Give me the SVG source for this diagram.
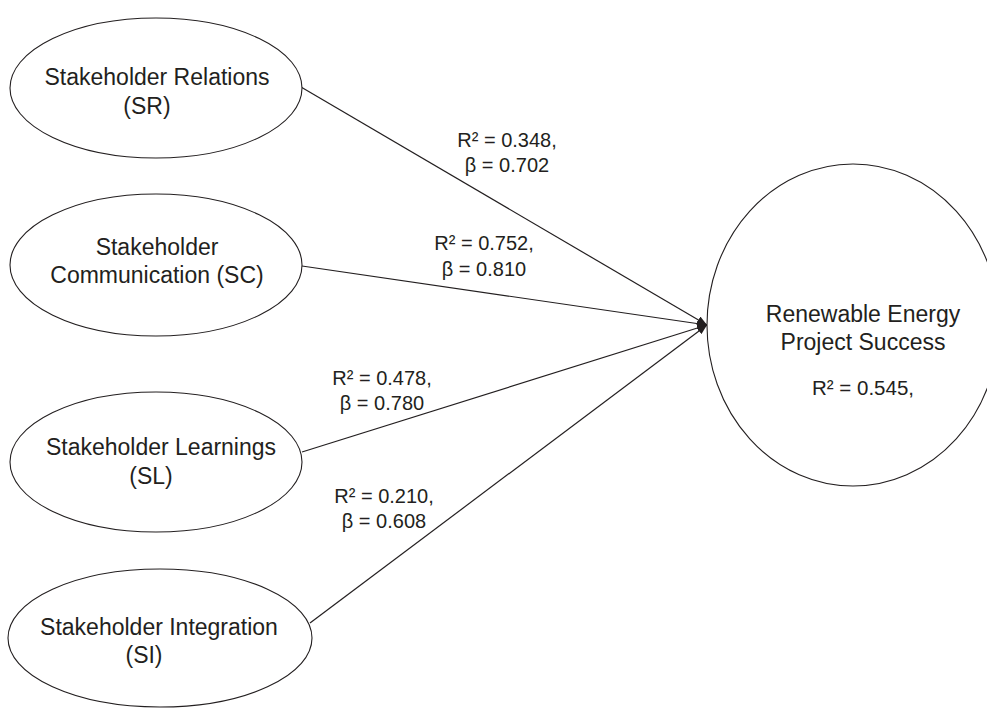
<svg xmlns="http://www.w3.org/2000/svg" width="987" height="709" viewBox="0 0 987 709">
<defs>
<style>
.node{fill:#fff;stroke:#231f20;stroke-width:1.1}
.t{font-family:"Liberation Sans",Arial,sans-serif;font-size:23px;fill:#231f20;text-anchor:middle}
.lb{font-family:"Liberation Sans",Arial,sans-serif;font-size:20px;fill:#231f20;text-anchor:middle}
.edge{fill:none;stroke:#231f20;stroke-width:1.2}
</style>
<marker id="ah" markerUnits="userSpaceOnUse" markerWidth="11" markerHeight="8" refX="10" refY="4" orient="auto">
<path d="M0,0 L10,4 L0,8 z" fill="#231f20"/>
</marker>
</defs>
<rect width="987" height="709" fill="#fff"/>
<g id="connectors">
<line class="edge" x1="301" y1="87" x2="707" y2="325" marker-end="url(#ah)"/>
<line class="edge" x1="302" y1="266" x2="707" y2="325" marker-end="url(#ah)"/>
<line class="edge" x1="302" y1="452" x2="707" y2="325" marker-end="url(#ah)"/>
<line class="edge" x1="310" y1="623" x2="707" y2="325" marker-end="url(#ah)"/>
</g>
<g id="SR">
<ellipse class="node" cx="156" cy="88" rx="146" ry="70"/>
<text class="t" x="157" y="85">Stakeholder Relations</text>
<text class="t" x="147" y="114">(SR)</text>
</g>
<g id="SC">
<ellipse class="node" cx="156" cy="265" rx="146" ry="71"/>
<text class="t" x="157" y="255">Stakeholder</text>
<text class="t" x="157" y="283">Communication (SC)</text>
</g>
<g id="SL">
<ellipse class="node" cx="156" cy="462" rx="146" ry="70"/>
<text class="t" x="161" y="455">Stakeholder Learnings</text>
<text class="t" x="151" y="484">(SL)</text>
</g>
<g id="SI">
<ellipse class="node" cx="160" cy="638" rx="152" ry="69"/>
<text class="t" x="159" y="635">Stakeholder Integration</text>
<text class="t" x="144" y="663">(SI)</text>
</g>
<g id="REPS">
<ellipse class="node" cx="853" cy="325" rx="146" ry="161"/>
<text class="t" x="863" y="322">Renewable Energy</text>
<text class="t" x="863" y="350">Project Success</text>
<text class="lb" x="863" y="395" style="font-size:20.5px">R² = 0.545,</text>
</g>
<g id="labels">
<text class="lb" x="507" y="147">R² = 0.348,</text>
<text class="lb" x="507" y="172">β = 0.702</text>
<text class="lb" x="484" y="250">R² = 0.752,</text>
<text class="lb" x="484" y="276">β = 0.810</text>
<text class="lb" x="382" y="385">R² = 0.478,</text>
<text class="lb" x="382" y="410">β = 0.780</text>
<text class="lb" x="384" y="503">R² = 0.210,</text>
<text class="lb" x="384" y="528">β = 0.608</text>
</g>
</svg>
